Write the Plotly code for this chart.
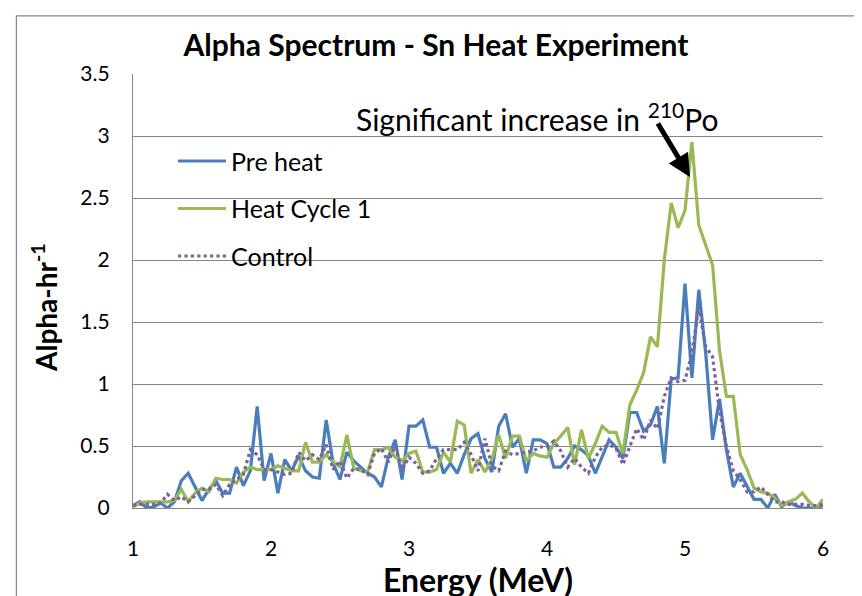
import plotly.graph_objects as go

energy = [1.00, 1.05, 1.10, 1.15, 1.20, 1.25, 1.30, 1.35, 1.40, 1.45,
          1.50, 1.55, 1.60, 1.65, 1.70, 1.75, 1.80, 1.85, 1.90, 1.95,
          2.00, 2.05, 2.10, 2.15, 2.20, 2.25, 2.30, 2.35, 2.40, 2.45,
          2.50, 2.55, 2.60, 2.65, 2.70, 2.75, 2.80, 2.85, 2.90, 2.95,
          3.00, 3.05, 3.10, 3.15, 3.20, 3.25, 3.30, 3.35, 3.40, 3.45,
          3.50, 3.55, 3.60, 3.65, 3.70, 3.75, 3.80, 3.85, 3.90, 3.95,
          4.00, 4.05, 4.10, 4.15, 4.20, 4.25, 4.30, 4.35, 4.40, 4.45,
          4.50, 4.55, 4.60, 4.65, 4.70, 4.75, 4.80, 4.85, 4.90, 4.95,
          5.00, 5.05, 5.10, 5.15, 5.20, 5.25, 5.30, 5.35, 5.40, 5.45,
          5.50, 5.55, 5.60, 5.65, 5.70, 5.75, 5.80, 5.85, 5.90, 5.95,
          6.00]

pre_heat = [0.02, 0.05, 0.00, 0.01, 0.04, 0.00, 0.05, 0.22, 0.28, 0.17,
            0.06, 0.15, 0.22, 0.12, 0.12, 0.33, 0.18, 0.30, 0.82, 0.22,
            0.44, 0.12, 0.39, 0.30, 0.42, 0.30, 0.25, 0.24, 0.71, 0.36,
            0.23, 0.45, 0.38, 0.33, 0.28, 0.25, 0.17, 0.41, 0.55, 0.23,
            0.66, 0.66, 0.71, 0.49, 0.49, 0.28, 0.36, 0.28, 0.43, 0.56,
            0.60, 0.40, 0.29, 0.66, 0.76, 0.49, 0.56, 0.28, 0.55, 0.55,
            0.52, 0.33, 0.33, 0.40, 0.50, 0.47, 0.42, 0.28, 0.41, 0.55,
            0.49, 0.40, 0.77, 0.77, 0.62, 0.67, 0.82, 0.36, 1.04, 1.05,
            1.81, 1.05, 1.76, 1.25, 0.55, 0.88, 0.47, 0.17, 0.28, 0.18,
            0.07, 0.07, 0.00, 0.11, 0.01, 0.05, 0.02, 0.00, 0.00, 0.00,
            0.02]

heat_cycle_1 = [0.01, 0.04, 0.05, 0.05, 0.05, 0.05, 0.06, 0.15, 0.05, 0.12,
                0.16, 0.13, 0.24, 0.23, 0.23, 0.20, 0.29, 0.33, 0.31, 0.31,
                0.31, 0.34, 0.32, 0.30, 0.30, 0.53, 0.37, 0.37, 0.43, 0.37,
                0.33, 0.59, 0.32, 0.30, 0.29, 0.47, 0.47, 0.49, 0.41, 0.38,
                0.44, 0.46, 0.29, 0.29, 0.31, 0.45, 0.37, 0.70, 0.67, 0.28,
                0.39, 0.29, 0.39, 0.59, 0.40, 0.58, 0.58, 0.38, 0.44, 0.42,
                0.41, 0.52, 0.58, 0.65, 0.35, 0.63, 0.40, 0.52, 0.66, 0.61,
                0.61, 0.44, 0.83, 0.95, 1.09, 1.38, 1.30, 2.00, 2.46, 2.26,
                2.40, 2.95, 2.28, 2.12, 1.96, 1.27, 0.90, 0.90, 0.43, 0.31,
                0.16, 0.13, 0.12, 0.08, 0.02, 0.05, 0.07, 0.12, 0.05, 0.00,
                0.07]

control = [0.02, 0.03, 0.03, 0.03, 0.04, 0.11, 0.06, 0.09, 0.05, 0.10,
           0.15, 0.15, 0.19, 0.10, 0.19, 0.23, 0.27, 0.47, 0.43, 0.31,
           0.31, 0.29, 0.27, 0.28, 0.45, 0.38, 0.43, 0.39, 0.51, 0.31,
           0.38, 0.24, 0.32, 0.31, 0.27, 0.44, 0.48, 0.37, 0.50, 0.31,
           0.41, 0.36, 0.28, 0.30, 0.40, 0.47, 0.47, 0.47, 0.53, 0.43,
           0.30, 0.56, 0.34, 0.30, 0.46, 0.43, 0.44, 0.45, 0.46, 0.49,
           0.50, 0.54, 0.46, 0.33, 0.40, 0.33, 0.28, 0.41, 0.49, 0.51,
           0.48, 0.35, 0.49, 0.64, 0.55, 0.71, 0.64, 0.90, 1.05, 1.02,
           1.03, 1.25, 1.62, 1.30, 1.22, 0.78, 0.50, 0.30, 0.23, 0.13,
           0.13, 0.17, 0.11, 0.05, 0.05, 0.03, 0.03, 0.03, 0.02, 0.02,
           0.03]

series_names = ["Pre heat", "Heat Cycle 1", "Control"]
x_ticks = [1, 2, 3, 4, 5, 6]
y_ticks = [0, 0.5, 1, 1.5, 2, 2.5, 3, 3.5]

FONT = "Lato, 'Open Sans', sans-serif"

fig = go.Figure()
fig.add_trace(go.Scatter(x=energy, y=pre_heat, mode="lines", name=series_names[0],
                         legendgroup="a",
                         line=dict(color="#4A7EBB", width=3.2)))
fig.add_trace(go.Scatter(x=energy, y=heat_cycle_1, mode="lines", name=series_names[1],
                         legendgroup="b",
                         line=dict(color="#98B954", width=3.2)))
fig.add_trace(go.Scatter(x=energy, y=control, mode="lines", name=series_names[2],
                         legendgroup="c",
                         line=dict(color="#7D60A0", width=3.2, dash="dot")))

fig.add_annotation(x=3.93, y=3.15, xref="x", yref="y",
                   text="Significant increase in <sup>210</sup>Po",
                   showarrow=False, font=dict(family=FONT, size=30, color="#000000"))
fig.add_annotation(x=5.036, y=2.67, xref="x", yref="y", text="",
                   showarrow=True, ax=-33, ay=-55, arrowhead=2, arrowsize=0.9,
                   arrowwidth=5, arrowcolor="#000000")
fig.add_annotation(x=-0.1275, y=0.461, xref="paper", yref="paper",
                   text="<b>Alpha-hr<sup>-1</sup></b>", textangle=-90,
                   showarrow=False, xanchor="center", yanchor="middle",
                   font=dict(family=FONT, size=28, color="#000000"))

fig.add_shape(type="rect", xref="paper", yref="paper",
              x0=-0.169, x1=1.046, y0=-0.3, y1=1.134,
              line=dict(color="#868686", width=1.2), fillcolor="rgba(0,0,0,0)")

fig.update_layout(
    width=862, height=596,
    margin=dict(l=125, r=47, t=66, b=96),
    paper_bgcolor="#FFFFFF", plot_bgcolor="#FFFFFF",
    font=dict(family=FONT, color="#000000"),
    title=dict(text="<b>Alpha Spectrum - Sn Heat Experiment</b>",
               x=428 / 862, xref="container", y=1 - 37 / 596, yref="container",
               xanchor="center", yanchor="middle",
               font=dict(family=FONT, size=30, color="#000000")),
    legend=dict(x=0.058, y=0.852, xanchor="left", yanchor="top",
                bgcolor="rgba(0,0,0,0)", font=dict(family=FONT, size=25),
                traceorder="grouped", tracegroupgap=12, itemwidth=48),
    showlegend=True,
)
fig.update_xaxes(range=[1, 6], tickvals=x_ticks, ticktext=[str(v) for v in x_ticks],
                 showgrid=False, zeroline=False,
                 showline=True, linecolor="#868686", linewidth=1.3,
                 ticks="", ticklabelstandoff=22,
                 tickfont=dict(family=FONT, size=21, color="#000000"),
                 title=dict(text="<b>Energy (MeV)</b>", standoff=2,
                            font=dict(family=FONT, size=32, color="#000000")))
fig.update_yaxes(range=[0, 3.5], tickvals=y_ticks,
                 ticktext=["0", "0.5", "1", "1.5", "2", "2.5", "3", "3.5"],
                 showgrid=True, gridcolor="#868686", gridwidth=1.2, zeroline=False,
                 showline=True, linecolor="#868686", linewidth=1.3,
                 ticks="", ticklabelstandoff=18,
                 tickfont=dict(family=FONT, size=21, color="#000000"))

fig.write_html("out.html")
